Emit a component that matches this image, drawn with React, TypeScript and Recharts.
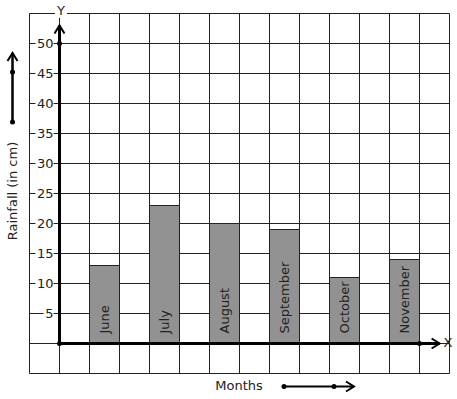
import React from 'react';
import {
  ComposedChart,
  Bar,
  XAxis,
  YAxis,
  CartesianGrid,
  LabelList,
  ReferenceLine,
  ReferenceDot,
} from 'recharts';

const months = ['June', 'July', 'August', 'September', 'October', 'November'];
const rainfall = [13, 23, 20, 19, 11, 14];
const xGridTicks = [-1, 0, 1, 2, 3, 4, 5, 6, 7, 8, 9, 10, 11, 12, 13];
const yTicks = [-5, 0, 5, 10, 15, 20, 25, 30, 35, 40, 45, 50, 55];
const yLabelled = [5, 10, 15, 20, 25, 30, 35, 40, 45, 50];

// each month takes one grid column, with an empty column between them
const data = months.map((m, i) => ({ month: m, slot: 2 * i + 1.5, rain: rainfall[i] }));

const FONT = 'DejaVu Sans, sans-serif';
const INK = '#222';

const YTick = (props: any) => {
  const { x, y, payload } = props;
  if (!yLabelled.includes(payload.value)) return null;
  const label = String(payload.value);
  const w = label.length * 8 + 2;
  return (
    <g>
      <rect x={x + 24 - w} y={y - 7} width={w} height={14} fill="#fff" />
      <text x={x + 24} y={y} textAnchor="end" dominantBaseline="central" fontFamily={FONT} fontSize={13} fill={INK}>
        {label}
      </text>
    </g>
  );
};

const BarName = (props: any) => {
  const { x, y, width, height, value } = props;
  const cx = x + width / 2;
  const by = y + height - 10;
  return (
    <text
      x={cx}
      y={by}
      transform={`rotate(-90 ${cx} ${by})`}
      textAnchor="start"
      dominantBaseline="central"
      fontFamily={FONT}
      fontSize={13}
      fill={INK}
    >
      {value}
    </text>
  );
};

const Arrow = (props: any) => {
  const { x1, y1, x2, y2 } = props;
  const vertical = Math.abs(x1 - x2) < 1;
  const head = vertical
    ? `M${x2 - 5},${y2 + 8} L${x2},${y2} L${x2 + 5},${y2 + 8}`
    : `M${x2 - 8},${y2 - 5} L${x2},${y2} L${x2 - 8},${y2 + 5}`;
  return (
    <g>
      <line x1={x1} y1={y1} x2={x2} y2={y2} stroke="#000" strokeWidth={3} />
      <path d={head} fill="none" stroke="#000" strokeWidth={2} />
    </g>
  );
};

export default function App() {
  return (
    <div style={{ position: 'absolute', left: 0, top: 0, width: 457, height: 399, background: '#fff' }}>
      <ComposedChart
        width={457}
        height={399}
        data={data}
        margin={{ top: 13.5, right: 7.5, bottom: 25.5, left: 0.5 }}
      >
        <CartesianGrid stroke={INK} strokeWidth={1} />
        <XAxis dataKey="slot" type="number" domain={[-1, 13]} ticks={xGridTicks} hide height={0} />
        <YAxis
          type="number"
          domain={[-5, 55]}
          ticks={yTicks}
          width={29}
          axisLine={false}
          tickLine={false}
          tickSize={0}
          tickMargin={0}
          tick={<YTick />}
          interval={0}
        />
        <Bar dataKey="rain" barSize={30} fill="#929292" stroke={INK} strokeWidth={1} isAnimationActive={false}>
          <LabelList dataKey="month" content={<BarName />} />
        </Bar>
        <ReferenceLine segment={[{ x: 0, y: 0 }, { x: 0, y: 53 }]} shape={<Arrow />} ifOverflow="visible" />
        <ReferenceLine segment={[{ x: 0, y: 0 }, { x: 12.67, y: 0 }]} shape={<Arrow />} ifOverflow="visible" />
        <ReferenceDot x={0} y={0} r={2.5} fill="#000" stroke="none" ifOverflow="visible" />
        <ReferenceDot x={0} y={50} r={2.5} fill="#000" stroke="none" ifOverflow="visible" />
        <ReferenceDot x={12} y={0} r={2.5} fill="#000" stroke="none" ifOverflow="visible" />
      </ComposedChart>
      <svg width={457} height={399} style={{ position: 'absolute', left: 0, top: 0, pointerEvents: 'none' }}>
        <rect x={55} y={4} width={12} height={14} fill="#fff" />
        <text x={61} y={10} textAnchor="middle" dominantBaseline="central" fontFamily={FONT} fontSize={13} fill={INK}>
          Y
        </text>
        <text x={448} y={342} textAnchor="middle" dominantBaseline="central" fontFamily={FONT} fontSize={13} fill={INK}>
          X
        </text>
        <line x1={12.5} y1={122} x2={12.5} y2={53} stroke="#000" strokeWidth={2.5} />
        <path d="M7.5,61 L12.5,53 L17.5,61" fill="none" stroke="#000" strokeWidth={2} />
        <circle cx={12.5} cy={72} r={2.5} fill="#000" />
        <circle cx={12.5} cy={122} r={2.5} fill="#000" />
        <text
          x={12}
          y={191}
          transform="rotate(-90 12 191)"
          textAnchor="middle"
          dominantBaseline="central"
          fontFamily={FONT}
          fontSize={13}
          fill={INK}
        >
          Rainfall (in cm)
        </text>
        <text x={239} y={385} textAnchor="middle" dominantBaseline="central" fontFamily={FONT} fontSize={13} fill={INK}>
          Months
        </text>
        <line x1={284} y1={386.5} x2={353} y2={386.5} stroke="#000" strokeWidth={2} />
        <path d="M346,381.5 L354,386.5 L346,391.5" fill="none" stroke="#000" strokeWidth={2} />
        <circle cx={284} cy={386.5} r={2.5} fill="#000" />
        <circle cx={334} cy={386.5} r={2.5} fill="#000" />
      </svg>
    </div>
  );
}
